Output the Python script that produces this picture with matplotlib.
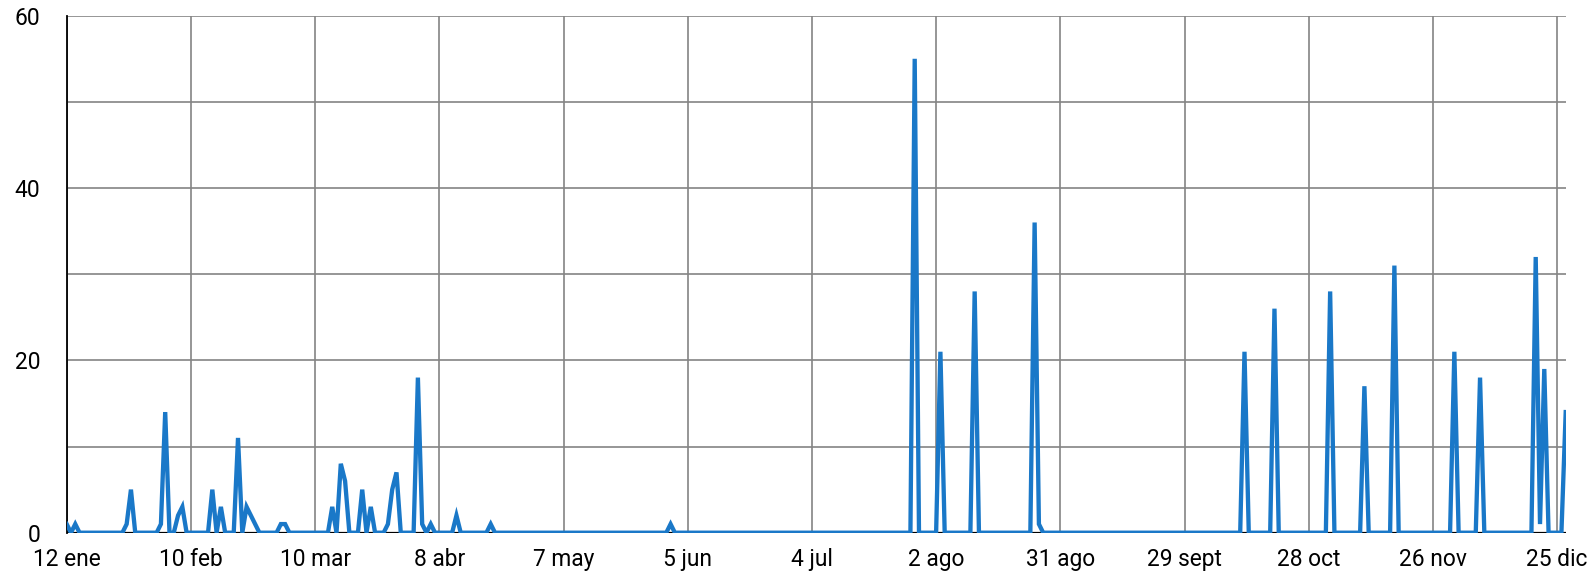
import numpy as np
import pandas as pd
import matplotlib
matplotlib.use("Agg")
import matplotlib.pyplot as plt
import matplotlib.dates as mdates

plt.rcParams['font.family'] = ['Roboto', 'DejaVu Sans']

# daily series 12 ene -> 27 dic 2024, every day not listed here is 0
start_date = "2024-01-12"
end_date = "2024-12-27"
spike_dates = [
    "2024-01-12", "2024-01-14", "2024-01-26", "2024-01-27", "2024-02-03",
    "2024-02-04", "2024-02-07", "2024-02-08", "2024-02-15", "2024-02-17",
    "2024-02-21", "2024-02-23", "2024-02-24", "2024-02-25", "2024-03-02",
    "2024-03-03", "2024-03-14", "2024-03-16", "2024-03-17", "2024-03-21",
    "2024-03-23", "2024-03-27", "2024-03-28", "2024-03-29", "2024-04-03",
    "2024-04-04", "2024-04-06", "2024-04-12", "2024-04-20", "2024-06-01",
    "2024-07-28", "2024-08-03", "2024-08-11", "2024-08-25", "2024-08-26",
    "2024-10-13", "2024-10-20", "2024-11-02", "2024-11-10", "2024-11-17",
    "2024-12-01", "2024-12-07", "2024-12-20", "2024-12-21", "2024-12-22",
    "2024-12-27",
]
spike_values = [
    1, 1, 1, 5, 1,
    14, 2, 3, 5, 3,
    11, 3, 2, 1, 1,
    1, 3, 8, 6, 5,
    3, 1, 5, 7, 18,
    1, 1, 2, 1, 1,
    55, 21, 28, 36, 1,
    21, 26, 28, 17, 31,
    21, 18, 32, 1, 19,
    14,
]

tick_dates = ["2024-01-12", "2024-02-10", "2024-03-10", "2024-04-08", "2024-05-07",
              "2024-06-05", "2024-07-04", "2024-08-02", "2024-08-31", "2024-09-29",
              "2024-10-28", "2024-11-26", "2024-12-25"]
tick_labels = ["12 ene", "10 feb", "10 mar", "8 abr", "7 may", "5 jun", "4 jul",
               "2 ago", "31 ago", "29 sept", "28 oct", "26 nov", "25 dic"]

days = pd.date_range(start_date, end_date, freq="D")
serie = pd.Series(spike_values, index=pd.to_datetime(spike_dates)).reindex(days, fill_value=0)

fig = plt.figure(figsize=(15.91, 5.79), dpi=100)
ax = fig.add_axes([66.7 / 1591, 1 - 532.7 / 579, (1565.7 - 66.7) / 1591, (532.7 - 15.7) / 579])

ax.plot(serie.index, serie.values, color='#1a78c8', lw=3.1, zorder=3, solid_joinstyle='miter')
ax.axhline(0, color='black', lw=1.6, zorder=2)

ax.set_xlim(days[0], days[-1])
ax.set_ylim(0, 60)
ax.set_yticks([0, 20, 40, 60])
ax.set_yticks([10, 30, 50], minor=True)
ax.set_xticks(pd.to_datetime(tick_dates))
ax.set_xticklabels(tick_labels)

ax.grid(True, which='both', color='#848484', lw=1.2, zorder=0)
ax.set_axisbelow(True)
ax.tick_params(which='both', length=0)
ax.tick_params(axis='y', pad=19, labelsize=16.4)
ax.tick_params(axis='x', pad=11, labelsize=16.4)

for s in ['top', 'right', 'bottom']:
    ax.spines[s].set_visible(False)
ax.spines['left'].set_color('black')
ax.spines['left'].set_linewidth(1.3)

fig.savefig("out.png", dpi=100)
